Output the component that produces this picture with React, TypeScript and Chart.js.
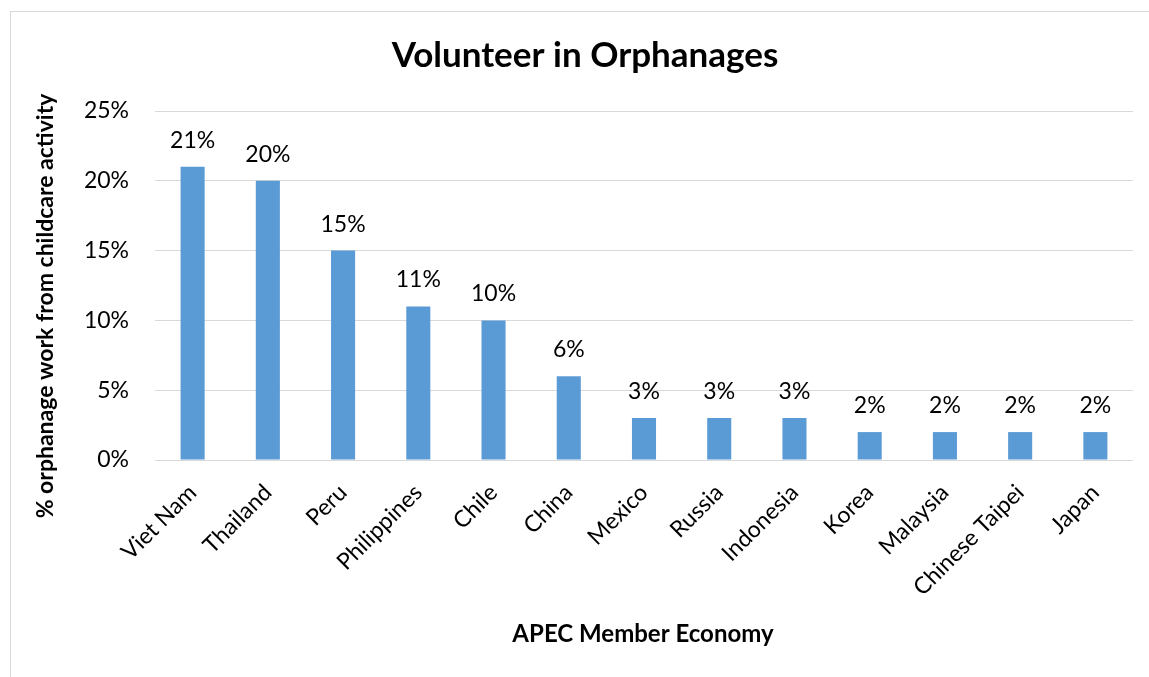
import React, { useEffect, useRef } from "react";
import { Chart, registerables } from "chart.js";

Chart.register(...registerables);

const categories: string[] = [
  "Viet Nam", "Thailand", "Peru", "Philippines", "Chile", "China", "Mexico",
  "Russia", "Indonesia", "Korea", "Malaysia", "Chinese Taipei", "Japan",
];
const shares: number[] = [21, 20, 15, 11, 10, 6, 3, 3, 3, 2, 2, 2, 2];
const yTicks: number[] = [0, 5, 10, 15, 20, 25];

const titleText = "Volunteer in Orphanages";
const yTitleText = "% orphanage work from childcare activity";
const xTitleText = "APEC Member Economy";

const FONT = "Lato, 'Open Sans', sans-serif";

export default function App() {
  const ref = useRef<HTMLCanvasElement | null>(null);

  useEffect(() => {
    if (!ref.current) return;

    const decor = {
      id: "decor",
      beforeDraw(chart: any) {
        const ctx = chart.ctx;
        ctx.save();
        ctx.fillStyle = "#ffffff";
        ctx.fillRect(0, 0, chart.width, chart.height);
        ctx.strokeStyle = "#D9D9D9";
        ctx.lineWidth = 1;
        ctx.strokeRect(10.5, 11.5, chart.width + 20, chart.height + 20);
        ctx.restore();
      },
      afterDraw(chart: any) {
        const ctx = chart.ctx;
        ctx.save();
        ctx.fillStyle = "#000";
        ctx.textAlign = "center";
        ctx.textBaseline = "alphabetic";
        ctx.font = `bold 35px ${FONT}`;
        ctx.fillText(titleText, 585, 67);
        ctx.font = `bold 24px ${FONT}`;
        ctx.fillText(xTitleText, 643, 642);
        ctx.font = `bold 23px ${FONT}`;
        ctx.translate(53, 306);
        ctx.rotate(-Math.PI / 2);
        ctx.fillText(yTitleText, 0, 0);
        ctx.restore();
      },
    };

    const dataLabels = {
      id: "dataLabels",
      afterDatasetsDraw(chart: any) {
        const ctx = chart.ctx;
        const meta = chart.getDatasetMeta(0);
        ctx.save();
        ctx.fillStyle = "#000";
        ctx.font = `23px ${FONT}`;
        ctx.textAlign = "center";
        ctx.textBaseline = "alphabetic";
        meta.data.forEach((bar: any, i: number) => {
          ctx.fillText(`${shares[i]}%`, bar.x, bar.y - 19);
        });
        ctx.restore();
      },
    };

    const chart = new Chart(ref.current, {
      type: "bar",
      data: {
        labels: categories,
        datasets: [
          {
            data: shares,
            backgroundColor: "#5B9BD5",
            borderWidth: 0,
            barPercentage: 0.32,
            categoryPercentage: 1,
          },
        ],
      },
      options: {
        responsive: false,
        animation: false,
        layout: { padding: { top: 111, right: 16, left: 0, bottom: 0 } },
        plugins: {
          legend: { display: false },
          tooltip: { enabled: false },
          title: { display: false },
        },
        scales: {
          x: {
            grid: { display: false, drawTicks: false },
            border: { display: false },
            ticks: {
              color: "#000",
              font: { family: FONT, size: 23 },
              minRotation: 45,
              maxRotation: 45,
              autoSkip: false,
              padding: 19,
            },
            afterFit(scale: any) {
              scale.height = 217;
            },
          },
          y: {
            min: 0,
            max: 25,
            afterBuildTicks(scale: any) {
              scale.ticks = yTicks.map((v) => ({ value: v }));
            },
            grid: { color: "#D9D9D9", lineWidth: 1, drawTicks: false },
            border: { display: false },
            ticks: {
              color: "#000",
              font: { family: FONT, size: 23 },
              padding: 26,
              callback: (v: any) => `${v}%`,
            },
            afterFit(scale: any) {
              scale.width = 155;
            },
          },
        },
      },
      plugins: [decor, dataLabels],
    });

    return () => chart.destroy();
  }, []);

  return (
    <div style={{ position: "absolute", left: 0, top: 0, width: 1149, height: 677 }}>
      <canvas ref={ref} width={1149} height={677} style={{ display: "block" }} />
    </div>
  );
}
